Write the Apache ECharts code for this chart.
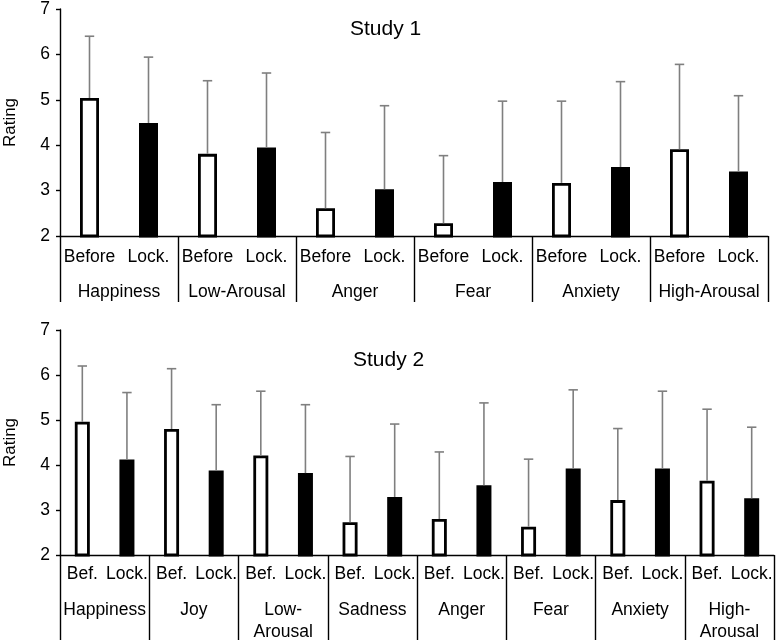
<!DOCTYPE html>
<html>
<head>
<meta charset="utf-8">
<script src="https://cdn.jsdelivr.net/npm/echarts@6/dist/echarts.min.js"></script>
<style>html,body{margin:0;padding:0;background:#fff}#c{width:777px;height:643px}</style>
</head>
<body>
<div id="c"></div>
<script>
// ---- Data ----
const study1Groups = ['Happiness', 'Low-Arousal', 'Anger', 'Fear', 'Anxiety', 'High-Arousal'];
const study1Sub = ['Before', 'Lock.'];
const study1Before = [5.04, 3.81, 2.61, 2.28, 3.17, 3.91];
const study1BeforeUpper = [6.40, 5.42, 4.28, 3.77, 4.97, 5.78];
const study1Lock = [4.49, 3.95, 3.03, 3.19, 3.52, 3.42];
const study1LockUpper = [5.94, 5.59, 4.87, 4.97, 5.40, 5.09];

const study2Groups = ['Happiness', 'Joy', 'Low-\nArousal', 'Sadness', 'Anger', 'Fear', 'Anxiety', 'High-\nArousal'];
const study2Sub = ['Bef.', 'Lock.'];
const study2Before = [4.96, 4.80, 4.21, 2.73, 2.80, 2.63, 3.22, 3.65];
const study2BeforeUpper = [6.20, 6.14, 5.64, 4.19, 4.29, 4.13, 4.81, 5.24];
const study2Lock = [4.12, 3.88, 3.82, 3.29, 3.55, 3.92, 3.92, 3.26];
const study2LockUpper = [5.61, 5.34, 5.34, 4.91, 5.38, 5.67, 5.64, 4.84];

const yTicks = [2, 3, 4, 5, 6, 7];

// ---- Build ----
const FONT = 'Liberation Sans, Arial, sans-serif';
function subCats(groups, sub) { const a = []; groups.forEach(() => { a.push(sub[0], sub[1]); }); return a; }
function interleave(before, lock, which) {
  const a = [];
  before.forEach((v, i) => { a.push(which === 0 ? v : '-'); a.push(which === 1 ? lock[i] : '-'); });
  return a;
}
function errData(before, bu, lock, lu) {
  const a = [];
  before.forEach((v, i) => { a.push([2 * i, v, bu[i]]); a.push([2 * i + 1, lock[i], lu[i]]); });
  return a;
}
function errRender(params, api) {
  const x = api.value(0);
  const p0 = api.coord([x, api.value(1)]);
  const p1 = api.coord([x, api.value(2)]);
  const st = { stroke: '#7f7f7f', lineWidth: 1.6 };
  return { type: 'group', children: [
    { type: 'line', shape: { x1: p0[0], y1: p0[1], x2: p1[0], y2: p1[1] }, style: st },
    { type: 'line', shape: { x1: p1[0] - 4.7, y1: p1[1], x2: p1[0] + 4.7, y2: p1[1] }, style: st }
  ]};
}

const grids = [
  { left: 60, right: 9, top: 9, height: 227, containLabel: false, outerBoundsMode: 'none' },
  { left: 60, right: 3, top: 330, height: 225, containLabel: false, outerBoundsMode: 'none' }
];
const cfg = [
  { groups: study1Groups, sub: study1Sub, b: study1Before, bu: study1BeforeUpper, l: study1Lock, lu: study1LockUpper, subMargin: 12, grpMargin: 45, tick: 66, barW: 19 },
  { groups: study2Groups, sub: study2Sub, b: study2Before, bu: study2BeforeUpper, l: study2Lock, lu: study2LockUpper, subMargin: 10, grpMargin: 44, tick: 85, barW: 15 }
];

const xAxis = [], yAxis = [], series = [];
cfg.forEach((c, g) => {
  xAxis.push({
    type: 'category', gridIndex: g, data: subCats(c.groups, c.sub), position: 'bottom',
    axisLine: { show: true, lineStyle: { color: '#000', width: 1.4 } },
    axisTick: { show: false },
    axisLabel: { interval: 0, margin: c.subMargin, color: '#000', fontSize: 17.5, fontFamily: FONT },
    splitLine: { show: false }
  });
  xAxis.push({
    type: 'category', gridIndex: g, data: c.groups, position: 'bottom',
    axisLine: { show: false },
    axisTick: { show: true, length: c.tick, inside: false, lineStyle: { color: '#000', width: 1.4 } },
    axisLabel: { interval: 0, margin: c.grpMargin, color: '#000', fontSize: 17.5, fontFamily: FONT, lineHeight: 22 },
    splitLine: { show: false }
  });
  yAxis.push({
    type: 'value', gridIndex: g, min: 2, max: 7, interval: 1,
    name: 'Rating', nameLocation: 'middle', nameGap: 41, nameRotate: 90,
    nameTextStyle: { color: '#000', fontSize: 17, fontFamily: FONT },
    axisLine: { show: true, lineStyle: { color: '#000', width: 1.4 } },
    axisTick: { show: true, length: 4, lineStyle: { color: '#000', width: 1.4 } },
    axisLabel: { margin: 10, color: '#000', fontSize: 17.5, fontFamily: FONT,
      formatter: v => (yTicks.indexOf(v) >= 0 ? String(v) : '') },
    splitLine: { show: false }
  });
  const xi = 2 * g;
  series.push({
    type: 'bar', name: 'Before', xAxisIndex: xi, yAxisIndex: g, barWidth: c.barW, barGap: '-100%',
    data: interleave(c.b, c.l, 0),
    itemStyle: { color: '#fff', borderColor: '#000', borderWidth: 2.8 }, z: 2, silent: true
  });
  series.push({
    type: 'bar', name: 'Lock.', xAxisIndex: xi, yAxisIndex: g, barWidth: c.barW, barGap: '-100%',
    data: interleave(c.b, c.l, 1),
    itemStyle: { color: '#000', borderColor: '#000', borderWidth: 2.8 }, z: 2, silent: true
  });
  series.push({
    type: 'custom', xAxisIndex: xi, yAxisIndex: g, renderItem: errRender,
    data: errData(c.b, c.bu, c.l, c.lu), z: 3, silent: true
  });
});

const chart = echarts.init(document.getElementById('c'), null, { renderer: 'canvas' });
chart.setOption({
  animation: false,
  backgroundColor: '#fff',
  textStyle: { fontFamily: FONT },
  title: [
    { text: 'Study 1', left: 345, top: 14, textStyle: { fontSize: 21, fontWeight: 'normal', color: '#000', fontFamily: FONT } },
    { text: 'Study 2', left: 348, top: 345, textStyle: { fontSize: 21, fontWeight: 'normal', color: '#000', fontFamily: FONT } }
  ],
  grid: grids,
  xAxis: xAxis,
  yAxis: yAxis,
  series: series
});
</script>
</body>
</html>
